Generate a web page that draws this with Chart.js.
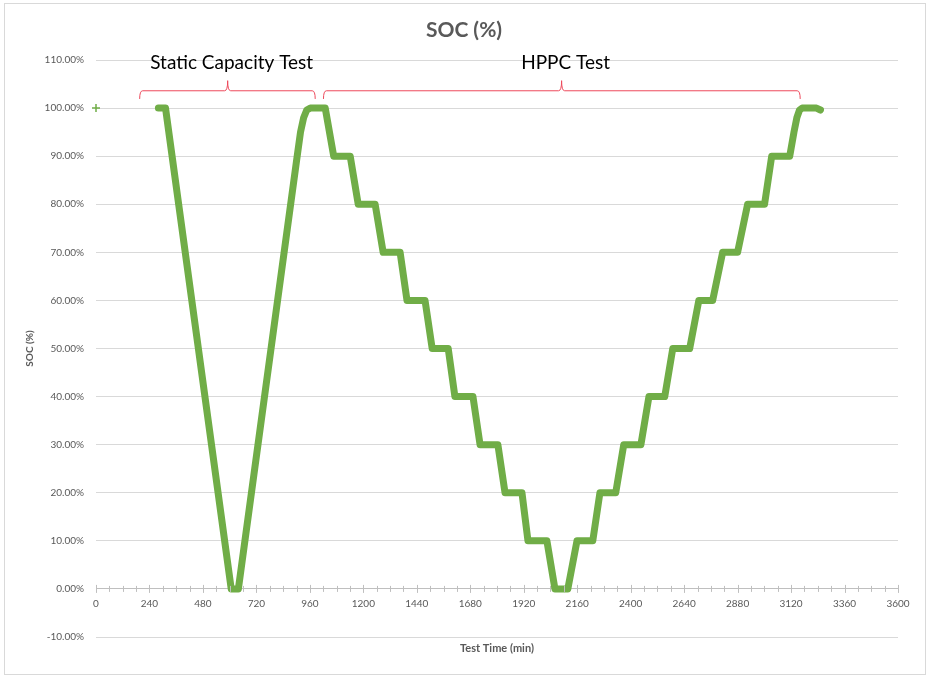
<!DOCTYPE html>
<html>
<head>
<meta charset="utf-8">
<title>SOC (%)</title>
<script src="https://cdn.jsdelivr.net/npm/chart.js@4.4.1/dist/chart.umd.min.js"></script>
<style>
    body { margin: 0; background: #ffffff; }
    #socChart { display: block; }
</style>
</head>
<body>
<canvas id="socChart" width="930" height="677"></canvas>
<script>
// Test time (min) and state of charge (%)
const timeMin = [280, 312, 607, 639, 903, 918, 932, 946, 962, 1029,
    1067, 1141, 1177, 1253, 1289, 1365, 1396, 1477, 1509, 1581,
    1611, 1692, 1724, 1804, 1836, 1912, 1939, 2024, 2060, 2118,
    2159, 2230, 2262, 2333, 2369, 2446, 2482, 2553, 2589, 2665,
    2706, 2768, 2813, 2880, 2925, 3001, 3033, 3114, 3133, 3146,
    3158, 3170, 3234, 3252];
const socPct = [100, 100, 0, 0, 90, 95, 98, 99.6, 100, 100,
    90, 90, 80, 80, 70, 70, 60, 60, 50, 50,
    40, 40, 30, 30, 20, 20, 10, 10, 0, 0,
    10, 10, 20, 20, 30, 30, 40, 40, 50, 50,
    60, 60, 70, 70, 80, 80, 90, 90, 95, 98,
    99.6, 100, 100, 99.6];

// lone marker at the very start of the log
const startTime = [0];
const startSoc = [100];

// axis ticks
const xTicks = [0, 240, 480, 720, 960, 1200, 1440, 1680, 1920, 2160, 2400, 2640, 2880, 3120, 3360, 3600];
const yTicks = [-10, 0, 10, 20, 30, 40, 50, 60, 70, 80, 90, 100, 110];

// phase brackets drawn over the plot
const phaseLabels = ['Static Capacity Test', 'HPPC Test'];
const phaseStart = [196, 1021];
const phaseEnd = [984, 3161];
const phaseMid = [591, 2090];

const green = '#70ad47';
const greyText = '#595959';

function toPoints(xs, ys) {
    return xs.map((x, i) => ({ x: x, y: ys[i] }));
}

// frame, title, minor ticks, bracket annotations and x title
const decorPlugin = {
    id: 'decor',
    beforeDraw(chart) {
        const ctx = chart.ctx;
        ctx.save();
        ctx.fillStyle = '#ffffff';
        ctx.fillRect(0, 0, chart.width, chart.height);
        ctx.strokeStyle = '#d9d9d9';
        ctx.lineWidth = 1;
        ctx.strokeRect(4.5, 3.5, 921, 671);

        ctx.fillStyle = greyText;
        ctx.font = 'bold 21px Lato';
        ctx.textAlign = 'center';
        ctx.textBaseline = 'middle';
        ctx.fillText('SOC (%)', 464, 30);
        ctx.restore();
    },
    afterDraw(chart) {
        const ctx = chart.ctx;
        const xs = chart.scales.x;
        const ys = chart.scales.y;
        const axisY = ys.getPixelForValue(0);
        ctx.save();

        // tick marks crossing the axis line
        ctx.strokeStyle = '#bfbfbf';
        ctx.lineWidth = 1;
        for (let t = 0; t <= 3600; t += 60) {
            const px = Math.round(xs.getPixelForValue(t)) + 0.5;
            const h = (t % 240 === 0) ? 4 : 3;
            ctx.beginPath();
            ctx.moveTo(px, axisY - h);
            ctx.lineTo(px, axisY + h);
            ctx.stroke();
        }

        // brackets
        const barY = ys.getPixelForValue(103.6);
        const endY = ys.getPixelForValue(101.9);
        const peakY = ys.getPixelForValue(105.7);
        ctx.strokeStyle = '#ee4a5c';
        ctx.lineWidth = 1;
        for (let i = 0; i < phaseLabels.length; i++) {
            const x0 = xs.getPixelForValue(phaseStart[i]);
            const x1 = xs.getPixelForValue(phaseEnd[i]);
            const xm = xs.getPixelForValue(phaseMid[i]);
            ctx.beginPath();
            ctx.moveTo(x0, endY);
            ctx.quadraticCurveTo(x0, barY, x0 + 3, barY);
            ctx.lineTo(xm - 3, barY);
            ctx.quadraticCurveTo(xm, barY, xm, peakY);
            ctx.quadraticCurveTo(xm, barY, xm + 3, barY);
            ctx.lineTo(x1 - 3, barY);
            ctx.quadraticCurveTo(x1, barY, x1, endY);
            ctx.stroke();

            ctx.fillStyle = '#000000';
            ctx.font = '19px Lato';
            ctx.textAlign = 'center';
            ctx.textBaseline = 'middle';
            ctx.fillText(phaseLabels[i], xm + 4, peakY - 18);
        }

        // x axis title
        ctx.fillStyle = greyText;
        ctx.font = 'bold 11px Lato';
        ctx.textAlign = 'center';
        ctx.textBaseline = 'middle';
        ctx.fillText('Test Time (min)', (chart.chartArea.left + chart.chartArea.right) / 2, 648);
        ctx.restore();
    }
};

function initChart() {
    const ctx = document.getElementById('socChart');
    new Chart(ctx, {
        type: 'line',
        data: {
            datasets: [
                {
                    label: 'SOC (%)',
                    data: toPoints(timeMin, socPct),
                    borderColor: green,
                    backgroundColor: green,
                    borderWidth: 7,
                    borderJoinStyle: 'round',
                    borderCapStyle: 'round',
                    pointRadius: 0,
                    tension: 0,
                    fill: false
                },
                {
                    label: 'start',
                    data: toPoints(startTime, startSoc),
                    showLine: false,
                    clip: false,
                    pointStyle: 'cross',
                    pointRadius: 4,
                    borderWidth: 1.5,
                    borderColor: green
                }
            ]
        },
        options: {
            responsive: false,
            animation: false,
            devicePixelRatio: 1,
            layout: {
                padding: { left: 0, right: 32, top: 60, bottom: 40 }
            },
            plugins: {
                legend: { display: false },
                tooltip: { enabled: false },
                title: { display: false }
            },
            scales: {
                x: {
                    type: 'linear',
                    position: { y: 0 },
                    min: 0,
                    max: 3600,
                    afterBuildTicks(scale) {
                        scale.ticks = xTicks.map(v => ({ value: v }));
                    },
                    grid: { drawOnChartArea: false, drawTicks: false },
                    border: { display: true, color: '#bfbfbf', width: 1 },
                    ticks: {
                        color: greyText,
                        font: { family: 'Lato', size: 10 },
                        padding: 9,
                        maxRotation: 0,
                        autoSkip: false,
                        callback: v => String(v)
                    }
                },
                y: {
                    min: -10,
                    max: 110,
                    afterBuildTicks(scale) {
                        scale.ticks = yTicks.map(v => ({ value: v }));
                    },
                    afterFit(scale) {
                        scale.width = 96;
                    },
                    grid: { color: '#d9d9d9', drawTicks: false },
                    border: { display: false },
                    ticks: {
                        color: greyText,
                        font: { family: 'Lato', size: 10 },
                        padding: 12,
                        callback: v => v.toFixed(2) + '%'
                    },
                    title: {
                        display: true,
                        text: 'SOC (%)',
                        color: greyText,
                        font: { family: 'Lato', size: 10, weight: 'bold' },
                        padding: { top: 24, bottom: 0 }
                    }
                }
            }
        },
        plugins: [decorPlugin]
    });
}

document.addEventListener('DOMContentLoaded', initChart);
</script>
</body>
</html>
